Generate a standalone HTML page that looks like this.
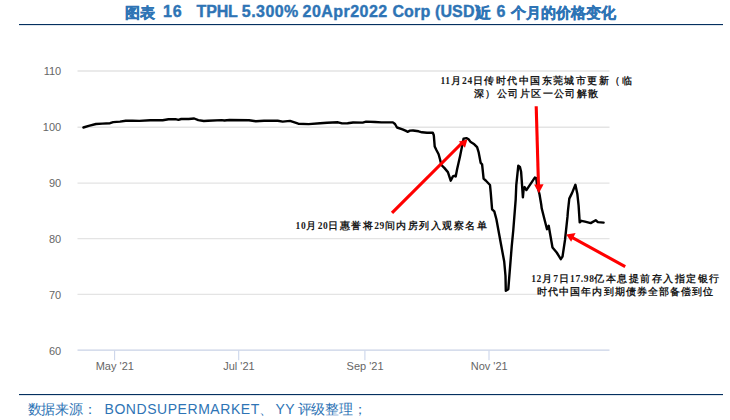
<!DOCTYPE html>
<html><head><meta charset="utf-8">
<style>
html,body{margin:0;padding:0;background:#fff;}
body{width:730px;height:420px;position:relative;overflow:hidden;font-family:"Liberation Sans",sans-serif;}
.tt span{position:absolute;top:3.6px;font-weight:bold;font-size:15px;line-height:18px;color:#2e74b5;white-space:nowrap;-webkit-text-stroke:0.4px #2e74b5;}
.rule{position:absolute;left:19px;width:704px;height:1px;background:#053060;box-shadow:0 0.5px 0 rgba(5,48,96,0.25);}
.src span{position:absolute;top:400px;font-size:14px;line-height:18px;color:#2e74b5;white-space:nowrap;}
.ann{position:absolute;font-family:"Liberation Serif",serif;font-weight:bold;font-size:9.5px;letter-spacing:1.45px;line-height:13px;color:#1a1a1a;text-align:center;white-space:nowrap;width:240px;}
.tt span.L{font-size:16px;top:3.4px;}
.ann i{font-style:normal;letter-spacing:0.6px;}
svg{position:absolute;left:0;top:0;}
.yl{font-family:"Liberation Sans",sans-serif;font-size:11px;fill:#666;}
</style></head>
<body>
<div class="tt">
<span style="left:124.5px">图表</span>
<span class="L" style="left:163px;letter-spacing:0.8px">16</span>
<span class="L" style="left:196.6px;letter-spacing:-0.2px">TPHL</span>
<span class="L" style="left:241.8px;letter-spacing:0.45px">5.300%</span>
<span class="L" style="left:302.6px;letter-spacing:0.45px">20Apr2022</span>
<span class="L" style="left:392.4px;letter-spacing:0.15px">Corp (USD)</span>
<span style="left:476px">近</span>
<span class="L" style="left:496.5px">6</span>
<span style="left:510.5px;letter-spacing:0.15px">个月的价格变化</span>
</div>
<div class="rule" style="top:24px"></div>
<svg width="730" height="420" viewBox="0 0 730 420">
  <g stroke="#e4e4e4" stroke-width="1.4">
    <path d="M77.5 71H609.5M77.5 127.2H609.5M77.5 183.1H609.5M77.5 238.6H609.5M77.5 294.4H609.5"/>
  </g>
  <path d="M77.5 350.2H609.5" stroke="#c9d2e6" stroke-width="1.3"/>
  <path d="M114.6 350.5V360.3M238.7 350.5V360.3M364.9 350.5V360.3M489 350.5V360.3" stroke="#ccd6eb" stroke-width="1.1"/>
  <g class="yl" text-anchor="end">
    <text x="61.2" y="75.3">110</text>
    <text x="61.2" y="131.3">100</text>
    <text x="61.2" y="187.4">90</text>
    <text x="61.2" y="242.9">80</text>
    <text x="61.2" y="298.7">70</text>
    <text x="61.2" y="354.5">60</text>
  </g>
  <g class="yl" text-anchor="middle">
    <text x="114.8" y="369.6">May '21</text>
    <text x="238.9" y="369.6">Jul '21</text>
    <text x="365.1" y="369.6">Sep '21</text>
    <text x="489.2" y="369.6">Nov '21</text>
  </g>
  <polyline fill="none" stroke="#000" stroke-width="2.4" stroke-linejoin="round" stroke-linecap="round" points="
83.4,127.5 88.7,125.8 96,124 102.4,123.6 110,123.2 113.2,122.1 120,121.6 125.7,120.7 132.5,120.7 139.4,120.9 150.3,120.2 162.7,120.2 168.5,119.2 175.5,119.2
178.4,119.9 181.2,119 188.7,119 194.2,118.5 198.3,120.1 203.8,121 208,120.8 221.6,120.1 224.4,120.5 229.5,120 249,120.2 255.8,121.2 264,120.7 277.7,120.8
282.7,121.6 290,120.9 298.3,123.7 308.6,124.1 320.2,123.3 327.1,122.7 338,122.3 342.1,123.4 347.6,123.3 353.1,122.5 362.7,122.6 366.1,121.6 375,122
381.4,122.4 392.9,122.4 395,124 397,127.5 402.5,129.3 406,130.9 407.5,131.8 410,130.6 413,130.5 418.6,131.3 422,132.3 427,132.7 432.8,132.7
433.8,135.2 434.7,146.4 436.4,150 438.6,154.3 440,159.3 441.4,165 444.3,167.9 447.9,172.1 450.7,180.7 452.9,176.4 454.3,175.7 455.7,176.4 457.1,169.3 460,156.4
463.6,138.6 466.4,138.1 468.6,139.3 470.7,142.1 474.3,144.3 477.1,147.1 478.6,152.1 480.7,162.9 482.1,164.3 483.6,178.6 485.7,180.5 490,185 490.7,192.1 492.1,209.3 494.3,211.4 496.4,219.3
499.3,235 500.8,243.3 504.2,261.5 505.5,276 505.8,290.8 508.3,289.2 509.7,271.7 511.7,246.7 513.3,230 515.7,199.3 516.3,184.8 518.3,165.7 519.9,166.9 521.1,171.7 522.9,197.3 523.8,187.7 524.6,187.1 526.4,190.1 534.8,177.6 536.2,178.2 537.1,184.8 539.5,194.3 541.3,205
541.7,208.3 544.2,218.3 547,229.2 548.7,225.8 550.3,235 552.5,247.5 556.7,252.5 560.8,259.2 562.5,256.7 565,240 567.5,216.7
567.9,211.4 569.3,198.6 572.1,192.9 575.4,184.8 577.4,194.3 578.6,205.7 579.7,222.4 581.4,220.8 585,221.7 590.7,223.1 595.7,220.3 597.9,222.1 603.6,222.6"/>
  <!-- arrows -->
  <g stroke="#ff0000" stroke-width="3.1" fill="none" stroke-linecap="butt">
    <path d="M392 212.8L462 143"/>
    <path d="M536.2 106.3L538.5 186"/>
    <path d="M625.2 266.6L572 237.4"/>
  </g>
  <g fill="#ff0000">
    <path d="M467.4 139.4L458.8 141.6L465 147.8Z"/>
    <path d="M538.9 193.3L534.1 184.5L543.6 184.3Z"/>
    <path d="M566.3 234.4L575.6 233L571.1 241.8Z"/>
  </g>
</svg>
<div class="ann" style="left:416.8px;top:75px;"><i>11</i>月<i>24</i>日传时代中国东莞城市更新（临<br>深）公司片区一公司解散</div>
<div class="ann" style="left:271.8px;top:220px;"><i>10</i>月<i>20</i>日惠誉将<i>29</i>间内房列入观察名单</div>
<div class="ann" style="left:505.8px;top:272.7px;"><i>12</i>月<i>7</i>日<i>17.98</i>亿本息提前存入指定银行<br><span style="background:#fff;letter-spacing:1.1px">时代中国年内到期债券全部备偿到位</span></div>
<div class="rule" style="top:394px"></div>
<div class="src">
<span style="left:27.5px;letter-spacing:-0.2px">数据来源：</span>
<span style="left:104.5px;letter-spacing:0.55px">BONDSUPERMARKET</span>
<span style="left:259px">、</span>
<span style="left:275.5px;letter-spacing:0.5px">YY</span>
<span style="left:297.5px;letter-spacing:-0.2px">评级整理；</span>
</div>
</body></html>
